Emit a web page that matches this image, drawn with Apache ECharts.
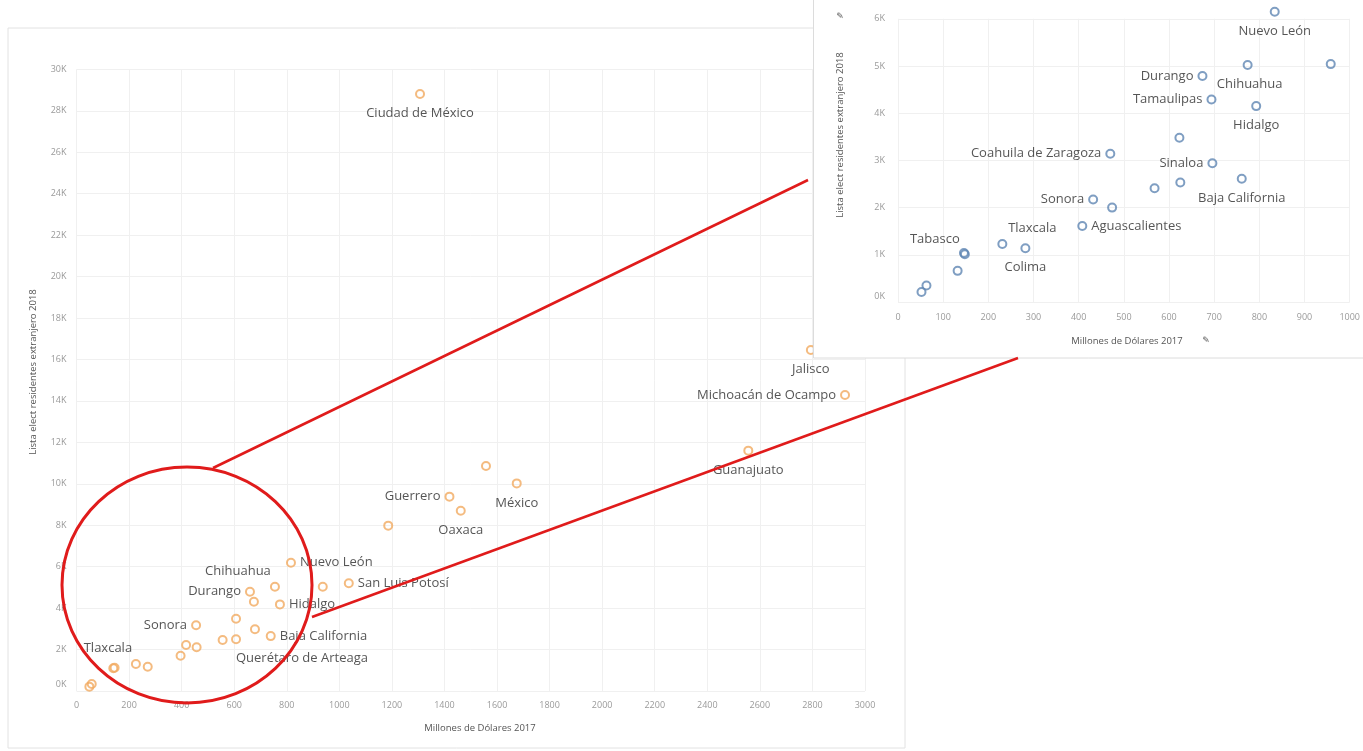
<!DOCTYPE html>
<html>
<head>
<meta charset="utf-8">
<style>
html,body{margin:0;padding:0;background:#fff;}
#chart{width:1363px;height:751px;}
</style>
<script src="https://cdn.jsdelivr.net/npm/echarts@6/dist/echarts.min.js"></script>
</head>
<body>
<div id="chart"></div>
<script>
// ---------- DATA ----------
// Main chart (orange)
const mainNames = ['Ciudad de México','Jalisco','Michoacán de Ocampo','Guanajuato','','México','Guerrero','Oaxaca','',
  'Nuevo León','Chihuahua','','San Luis Potosí','Durango','','Hidalgo','','Sonora','Querétaro de Arteaga','Baja California',
  '','','','','','Tlaxcala','','','','',''];
const mainX = [1307,2794,2924,2556,1558,1675,1419,1462,1186,
  816,755,937,1036,660,675,774,607,455,679,739,
  607,556,417,457,396,226,271,140,145,58,49];
const mainY = [28810,16460,14290,11600,10860,10020,9380,8700,7980,
  6190,5030,5030,5200,4790,4310,4180,3490,3170,2980,2650,
  2500,2460,2220,2110,1700,1300,1170,1100,1120,340,210];
const mainXTicks = {min:0, max:3000, interval:200};
const mainYTicks = {min:0, max:30000, interval:2000};

// Inset chart (blue)
const insetNames = ['Nuevo León','Chihuahua','','Durango','Tamaulipas','Hidalgo','','Coahuila de Zaragoza','Sinaloa',
  'Baja California','','','Sonora','','Aguascalientes','Tlaxcala','Colima','Tabasco','','','',''];
const insetX = [834,774,958,674,694,793,623,470,696,761,625,568,432,474,408,231,282,148,146,132,63,52];
const insetY = [6150,5020,5040,4790,4290,4150,3480,3140,2940,2610,2530,2410,2170,2000,1610,1230,1140,1010,1040,660,350,210];
const insetXTicks = {min:0, max:1000, interval:100};
const insetYTicks = {min:0, max:6000, interval:1000};

const xTitle = 'Millones de Dólares 2017';
const yTitle = 'Lista elect residentes extranjero 2018';

// ---------- STYLE / LAYOUT ----------
const FONT = 'Open Sans';
const mainPlace = {
  'Ciudad de México':{p:'bottom'}, 'Jalisco':{p:'bottom'}, 'Michoacán de Ocampo':{p:'left'},
  'Guanajuato':{p:'bottom'}, 'México':{p:'bottom'}, 'Guerrero':{p:'left'}, 'Oaxaca':{p:'bottom'},
  'Nuevo León':{p:'right'}, 'Chihuahua':{p:'top',o:[-37,0]}, 'San Luis Potosí':{p:'right'},
  'Durango':{p:'left'}, 'Hidalgo':{p:'right'}, 'Sonora':{p:'left'},
  'Querétaro de Arteaga':{p:'bottom',o:[47,10]}, 'Baja California':{p:'right'}, 'Tlaxcala':{p:'top',o:[-28,0]}
};
const insetPlace = {
  'Nuevo León':{p:'bottom'}, 'Chihuahua':{p:'bottom',o:[2,0]}, 'Durango':{p:'left'}, 'Tamaulipas':{p:'left'},
  'Hidalgo':{p:'bottom'}, 'Coahuila de Zaragoza':{p:'left'}, 'Sinaloa':{p:'left'}, 'Baja California':{p:'bottom'},
  'Sonora':{p:'left'}, 'Aguascalientes':{p:'right'}, 'Tlaxcala':{p:'top',o:[30,0]}, 'Colima':{p:'bottom'},
  'Tabasco':{p:'top',o:[-30,0]}
};
function mkLabel(name, place){
  const c = place[name];
  if(!name || !c) return {show:false};
  return {show:true, position:c.p, distance:(c.p==='bottom'?8:4), formatter:name,
    color:'#2b2b2b', fontSize:13, fontFamily:FONT};
}
function mkLayout(names, place){
  return function(p){
    const c = place[names[p.dataIndex]];
    const o = (c && c.o) || [0,0];
    return {dx:o[0], dy:o[1], hideOverlap:false};
  };
}
const kFmt = v => v===0 ? '{z|0K}' : (v/1000)+'K';
const nFmt = v => String(v);
const tickStyle = {color:'#9a9a9a', fontSize:9, fontFamily:FONT};

const mainData = mainX.map((x,i)=>({value:[x, mainY[i]], name:mainNames[i], label:mkLabel(mainNames[i], mainPlace)}));
const insetData = insetX.map((x,i)=>({value:[x, insetY[i]], name:insetNames[i], label:mkLabel(insetNames[i], insetPlace)}));

const chart = echarts.init(document.getElementById('chart'));
const option = {
  animation:false,
  backgroundColor:'#fff',
  grid:[
    {left:76.5, right:1363-865, top:69.4, bottom:751-691},
    {left:898, right:9, top:18.8, bottom:751-302}
  ],
  xAxis:[
    {type:'value', gridIndex:0, min:mainXTicks.min, max:mainXTicks.max, interval:mainXTicks.interval,
     axisLine:{show:false}, axisTick:{show:false},
     axisLabel:Object.assign({margin:10, formatter:nFmt}, tickStyle),
     splitLine:{lineStyle:{color:'#f0f0f0', width:1}}, z:1},
    {type:'value', gridIndex:1, min:insetXTicks.min, max:insetXTicks.max, interval:insetXTicks.interval,
     axisLine:{show:false}, axisTick:{show:false},
     axisLabel:Object.assign({margin:11, formatter:nFmt}, tickStyle),
     splitLine:{lineStyle:{color:'#f0f0f0', width:1}}, z:6}
  ],
  yAxis:[
    {type:'value', gridIndex:0, min:mainYTicks.min, max:mainYTicks.max, interval:mainYTicks.interval,
     axisLine:{show:false}, axisTick:{show:false},
     axisLabel:Object.assign({margin:10, formatter:kFmt, rich:{z:{padding:[0,0,14,0], color:'#9a9a9a', fontSize:9, fontFamily:FONT}}}, tickStyle),
     splitLine:{lineStyle:{color:'#f0f0f0', width:1}}, z:1},
    {type:'value', gridIndex:1, min:insetYTicks.min, max:insetYTicks.max, interval:insetYTicks.interval,
     axisLine:{show:false}, axisTick:{show:false},
     axisLabel:Object.assign({margin:13, formatter:kFmt, rich:{z:{padding:[0,0,12,0], color:'#9a9a9a', fontSize:9, fontFamily:FONT}}}, tickStyle),
     splitLine:{lineStyle:{color:'#f0f0f0', width:1}}, z:6}
  ],
  series:[
    {type:'scatter', xAxisIndex:0, yAxisIndex:0, data:mainData, symbol:'circle', symbolSize:8, clip:false,
     itemStyle:{color:'rgba(255,255,255,0)', borderColor:'#f1aa60', borderWidth:2}, z:2,
     labelLayout:mkLayout(mainNames, mainPlace)},
    {type:'scatter', xAxisIndex:1, yAxisIndex:1, data:insetData, symbol:'circle', symbolSize:8, clip:false,
     itemStyle:{color:'rgba(255,255,255,0)', borderColor:'#5f86b3', borderWidth:2}, z:8,
     labelLayout:mkLayout(insetNames, insetPlace)}
  ],
  graphic:[
    {type:'rect', z:0, silent:true, shape:{x:8, y:28, width:897, height:720},
     style:{fill:'none', stroke:'#e2e2e2', lineWidth:1}},
    {type:'rect', z:5, silent:true, shape:{x:813.5, y:-2, width:560, height:360},
     style:{fill:'#fff', stroke:'#dcdcdc', lineWidth:1}},
    {type:'text', z:3, x:480, y:728, style:{text:xTitle, fill:'#555', fontSize:9.5, fontFamily:FONT, align:'center', verticalAlign:'middle'}},
    {type:'text', z:3, x:33, y:372, rotation:Math.PI/2, style:{text:yTitle, fill:'#555', fontSize:9.5, fontFamily:FONT, align:'center', verticalAlign:'middle'}},
    {type:'text', z:9, x:1127, y:341, style:{text:xTitle, fill:'#555', fontSize:9.5, fontFamily:FONT, align:'center', verticalAlign:'middle'}},
    {type:'text', z:9, x:1206, y:341, style:{text:'✎', fill:'#555', fontSize:9, fontFamily:'DejaVu Sans', align:'center', verticalAlign:'middle'}},
    {type:'text', z:9, x:840, y:135, rotation:Math.PI/2, style:{text:yTitle, fill:'#555', fontSize:9.5, fontFamily:FONT, align:'center', verticalAlign:'middle'}},
    {type:'text', z:9, x:840, y:17, style:{text:'✎', fill:'#555', fontSize:9, fontFamily:'DejaVu Sans', align:'center', verticalAlign:'middle'}},
    {type:'ellipse', z:50, silent:true, shape:{cx:187, cy:585, rx:125, ry:118},
     style:{fill:'none', stroke:'#e01b1b', lineWidth:3}},
    {type:'line', z:50, silent:true, shape:{x1:213, y1:468, x2:808, y2:180},
     style:{stroke:'#e01b1b', lineWidth:2.5}},
    {type:'line', z:50, silent:true, shape:{x1:312, y1:617, x2:1018, y2:358},
     style:{stroke:'#e01b1b', lineWidth:2.5}}
  ]
};
chart.setOption(option);
</script>
</body>
</html>
